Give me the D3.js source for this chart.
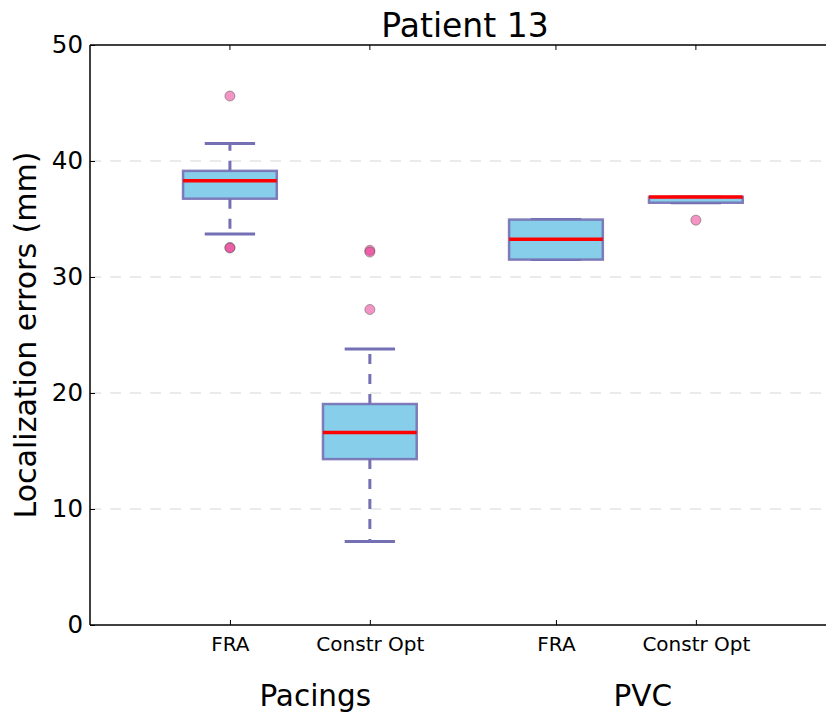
<!DOCTYPE html>
<html>
<head>
<meta charset="utf-8">
<script src="https://cdn.jsdelivr.net/npm/d3@7"></script>
<style>
  html, body { margin: 0; padding: 0; background: #fff; }
  svg { display: block; font-family: "DejaVu Sans", sans-serif; }
</style>
</head>
<body>
<svg id="chart" width="826" height="713"></svg>
<script>
// Box positions along the x axis and their tick labels
const positions = [1, 2, 3.33, 4.33];
const tickLabels = ["FRA", "Constr Opt", "FRA", "Constr Opt"];

// Group captions under the tick labels
const groupLabels = ["Pacings", "PVC"];
const groupLabelPos = [1.61, 3.95];

// Five-number summaries per box (mm)
const whiskerLow  = [33.7, 7.2, 31.5, 36.4];
const quartile1   = [36.75, 14.3, 31.5, 36.4];
const medians     = [38.3, 16.6, 33.25, 36.9];
const quartile3   = [39.15, 19.05, 34.95, 36.9];
const whiskerHigh = [41.5, 23.8, 34.95, 36.9];

// Outlying observations per box
const outliers = [
  [45.6, 32.55, 32.5],
  [32.3, 32.15, 27.2],
  [],
  [34.9]
];

const yTicks = [0, 10, 20, 30, 40, 50];
const gridTicks = [10, 20, 30, 40];

const svg = d3.select("#chart");
const plotL = 90, plotR = 840, plotT = 45, plotB = 625;

const x = d3.scaleLinear().domain([0, 5.36]).range([plotL, plotR]);
const y = d3.scaleLinear().domain([0, 50]).range([plotB, plotT]);

const boxW = 0.67, capW = 0.36;
const purple = "#7570b3";

// Horizontal dashed grid
svg.append("g").selectAll("line").data(gridTicks).join("line")
  .attr("x1", plotL).attr("x2", plotR)
  .attr("y1", d => y(d)).attr("y2", d => y(d))
  .attr("stroke", "#e3e3e3").attr("stroke-width", 1.5)
  .attr("stroke-dasharray", "11,9");

const boxes = positions.map((p, i) => ({
  p, lo: whiskerLow[i], q1: quartile1[i], med: medians[i],
  q3: quartile3[i], hi: whiskerHigh[i], out: outliers[i]
}));

const g = svg.append("g");

// Whiskers (dashed)
g.selectAll(".wl").data(boxes).join("line").attr("class", "wl")
  .attr("x1", d => x(d.p)).attr("x2", d => x(d.p))
  .attr("y1", d => y(d.q1)).attr("y2", d => y(d.lo))
  .attr("stroke", purple).attr("stroke-width", 3)
  .attr("stroke-dasharray", "10,10");
g.selectAll(".wh").data(boxes).join("line").attr("class", "wh")
  .attr("x1", d => x(d.p)).attr("x2", d => x(d.p))
  .attr("y1", d => y(d.q3)).attr("y2", d => y(d.hi))
  .attr("stroke", purple).attr("stroke-width", 3)
  .attr("stroke-dasharray", "10,10");

// Caps
["lo", "hi"].forEach(k => {
  g.selectAll(".cap-" + k).data(boxes).join("line").attr("class", "cap-" + k)
    .attr("x1", d => x(d.p - capW / 2)).attr("x2", d => x(d.p + capW / 2))
    .attr("y1", d => y(d[k])).attr("y2", d => y(d[k]))
    .attr("stroke", purple).attr("stroke-width", 3);
});

// Boxes
g.selectAll(".box").data(boxes).join("rect").attr("class", "box")
  .attr("x", d => x(d.p - boxW / 2))
  .attr("width", d => x(d.p + boxW / 2) - x(d.p - boxW / 2))
  .attr("y", d => y(d.q3))
  .attr("height", d => y(d.q1) - y(d.q3))
  .attr("fill", "#87ceeb")
  .attr("stroke", purple).attr("stroke-opacity", 0.9).attr("stroke-width", 2.5);

// Medians
g.selectAll(".median").data(boxes).join("line").attr("class", "median")
  .attr("x1", d => x(d.p - boxW / 2)).attr("x2", d => x(d.p + boxW / 2))
  .attr("y1", d => y(d.med)).attr("y2", d => y(d.med))
  .attr("stroke", "#ff0000").attr("stroke-width", 3.5);

// Outliers
const outPts = boxes.flatMap(d => d.out.map(v => ({ p: d.p, v })));
g.selectAll(".flier").data(outPts).join("circle").attr("class", "flier")
  .attr("cx", d => x(d.p)).attr("cy", d => y(d.v)).attr("r", 5)
  .attr("fill", "#e7298a").attr("fill-opacity", 0.5)
  .attr("stroke", "#555").attr("stroke-opacity", 0.5).attr("stroke-width", 1);

// Axes frame: left, bottom, top spines
const frame = svg.append("g").attr("stroke", "#000").attr("stroke-width", 1.5);
frame.append("line").attr("x1", plotL).attr("x2", plotL).attr("y1", plotT).attr("y2", plotB);
frame.append("line").attr("x1", plotL).attr("x2", plotR).attr("y1", plotB).attr("y2", plotB);
frame.append("line").attr("x1", plotL).attr("x2", plotR).attr("y1", plotT).attr("y2", plotT);

// Y axis with inward ticks
const yAxis = svg.append("g").attr("transform", `translate(${plotL},0)`)
  .call(d3.axisLeft(y).tickValues(yTicks).tickSize(-5).tickPadding(7));
yAxis.select(".domain").remove();
yAxis.selectAll("text").attr("font-size", 24.5).attr("fill", "#000")
  .attr("font-family", "DejaVu Sans");
yAxis.selectAll(".tick line").attr("stroke", "#000");

// X axis with inward ticks
const xAxis = svg.append("g").attr("transform", `translate(0,${plotB})`)
  .call(d3.axisBottom(x).tickValues(positions).tickFormat((d, i) => tickLabels[i])
    .tickSize(-5).tickPadding(12));
xAxis.select(".domain").remove();
xAxis.selectAll("text").attr("font-size", 20).attr("fill", "#000")
  .attr("font-family", "DejaVu Sans");
xAxis.selectAll(".tick line").attr("stroke", "#000");

// Top ticks pointing inward
svg.append("g").selectAll("line").data(positions).join("line")
  .attr("x1", d => x(d)).attr("x2", d => x(d))
  .attr("y1", plotT).attr("y2", plotT + 5)
  .attr("stroke", "#000");

// Group captions
svg.append("g").selectAll("text").data(groupLabels).join("text")
  .attr("x", (d, i) => x(groupLabelPos[i])).attr("y", 706)
  .attr("text-anchor", "middle").attr("font-size", 29.5)
  .text(d => d);

// Title
svg.append("text").attr("x", (plotL + plotR) / 2).attr("y", 37)
  .attr("text-anchor", "middle").attr("font-size", 33)
  .text("Patient 13");

// Y axis label
svg.append("text")
  .attr("transform", `translate(36,${(plotT + plotB) / 2}) rotate(-90)`)
  .attr("text-anchor", "middle").attr("font-size", 30)
  .text("Localization errors (mm)");
</script>
</body>
</html>
